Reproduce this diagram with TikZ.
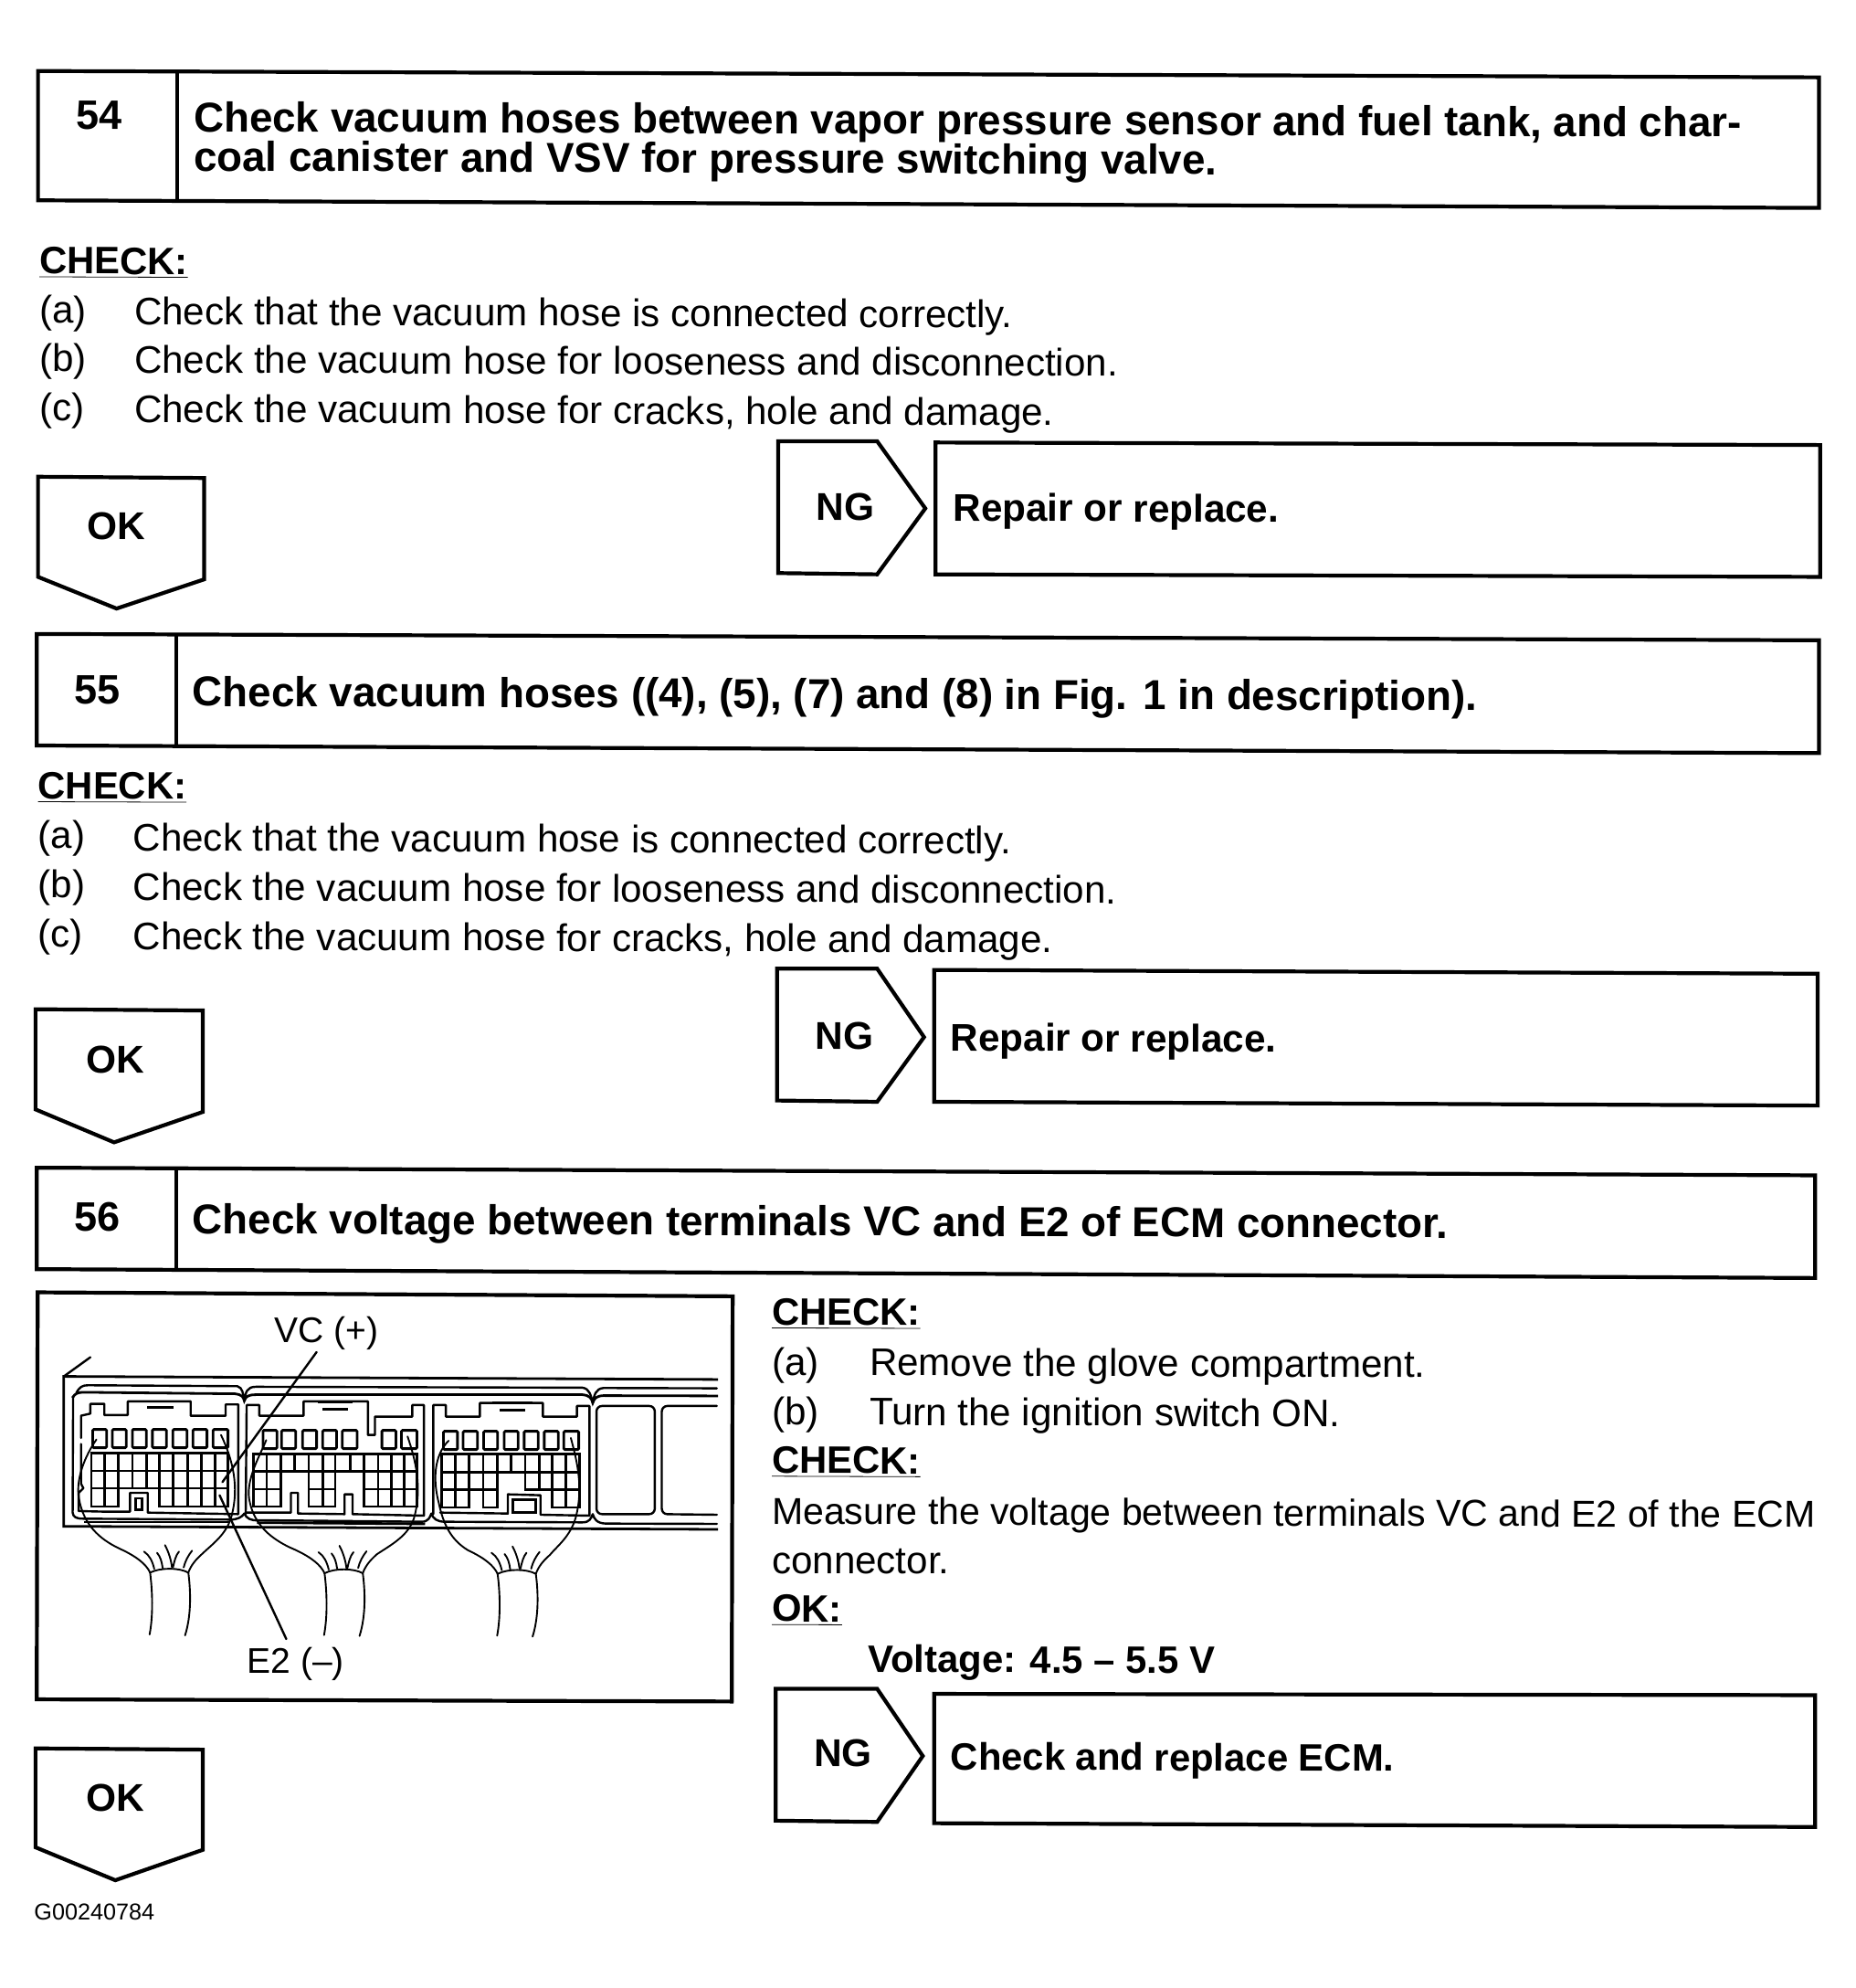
\documentclass[tikz,border=0pt]{standalone}
\usepackage{fontspec}
\setmainfont{Liberation Sans}
\tikzset{
  every node/.style={inner sep=0pt,outer sep=0pt},
  boxline/.style={line width=2.1pt,line join=miter},
  fig/.style={line width=1.2pt,line join=round,line cap=round},
  figthin/.style={line width=.95pt,line join=round,line cap=round},
  grid/.style={line width=1.4pt,line cap=rect},
  body/.style={anchor=base west,rotate=-.2,font=\fontsize{21.05}{26}\selectfont},
  bold/.style={anchor=base west,rotate=-.2,font=\fontsize{22.85}{21.5}\selectfont\bfseries,align=left},
  boldsm/.style={anchor=base west,rotate=-.2,font=\fontsize{21.1}{26}\selectfont\bfseries},
  chk/.style={anchor=base west,rotate=-.2,font=\fontsize{20.9}{26}\selectfont\bfseries},
  tag/.style={anchor=center,rotate=-.2,font=\fontsize{21.2}{26}\selectfont\bfseries},
  num/.style={anchor=center,rotate=-.2,font=\fontsize{22.5}{26}\selectfont\bfseries},
  figlabel/.style={anchor=center,font=\fontsize{19.5}{24}\selectfont}
}
% harness in zoom coordinates: shift x, shift y, left start x, right start x, right start y, left bulge, right bulge
\newcommand{\harness}[7]{%
  \begin{scope}[shift={(#1,#2)}]
    \draw[figthin] (#3,525) .. controls (125,575) and (100+#6,660) .. (112+#6,730) .. controls (122+#6,800) and (150+#6/2,850) .. (200,885) .. controls (235,910) and (255,935) .. (263,962);
    \draw[figthin] (#4,#5) .. controls (440+#7,590) and (455+#7,680) .. (437+#7,780) .. controls (425+#7,840) and (395+#7/2,870) .. (375,900) .. controls (360,920) and (350,940) .. (345,962);
    \draw[figthin] (263,962) .. controls (285,945) and (325,945) .. (345,962);
    \draw[figthin] (263,962) .. controls (268,1020) and (270,1100) .. (262,1165);
    \draw[figthin] (345,962) .. controls (350,1020) and (352,1100) .. (338,1168);
    \draw[figthin] (272,950) .. controls (268,925) and (262,905) .. (250,893);
    \draw[figthin] (290,947) .. controls (288,925) and (285,910) .. (278,897);
    \draw[figthin] (310,945) .. controls (308,920) and (303,895) .. (295,872);
    \draw[figthin] (312,945) .. controls (315,925) and (318,905) .. (325,893);
    \draw[figthin] (335,945) .. controls (338,925) and (345,905) .. (353,890);
  \end{scope}}
\newcommand{\pins}[2]{\foreach \a/\b in {#2} {\draw[grid,rounded corners=.6pt] (\a,#1) rectangle (\b,#1+60);}}
\begin{document}
\begin{tikzpicture}[x=.6936pt,y=-.6936pt]
\useasboundingbox (0,0) rectangle (1464,1568);
\fill[white] (0,0) rectangle (1464,1568);

% ---- step 54
\draw[boxline] (30,56) -- (1435,61) -- (1435,164) -- (30,158) -- cycle;
\draw[boxline] (140,57) -- (140,158);
\node[num] (n54) at (78,91) {54};
\node[bold,anchor=north west] (t54) at (153,80) {Check vacuum hoses between vapor pressure sensor and fuel tank, and char-\\coal canister and VSV for pressure switching valve.};
\node[chk] (c54) at (31,216) {\underline{CHECK:}};
\node[body] (a54l) at (31,255) {(a)};
\node[body] (a54) at (106,256) {Check that the vacuum hose is connected correctly.};
\node[body] (b54l) at (31,293) {(b)};
\node[body] (b54) at (106,294) {Check the vacuum hose for looseness and disconnection.};
\node[body] (c54l) at (31,332) {(c)};
\node[body] (c54b) at (106,333) {Check the vacuum hose for cracks, hole and damage.};
\draw[boxline] (30,376) -- (161,377) -- (161,457) -- (92,480) -- (30,455) -- cycle;
\node[tag] (ok54) at (92,415) {OK};
\draw[boxline] (614,348) -- (692,348) -- (730,401) -- (692,453) -- (614,452) -- cycle;
\node[tag] (ng54) at (667,400) {NG};
\draw[boxline] (738,349) -- (1436,351) -- (1436,455) -- (738,453) -- cycle;
\node[boldsm] (r54) at (752,411) {Repair or replace.};

% ---- step 55
\draw[boxline] (29,500) -- (1435,505) -- (1435,594) -- (29,588) -- cycle;
\draw[boxline] (139,501) -- (139,589);
\node[num] (n55) at (77,544) {55};
\node[bold] (t55) at (152,557) {Check vacuum hoses ((4), (5), (7) and (8) in Fig. 1 in description).};
\node[chk] (c55) at (30,630) {\underline{CHECK:}};
\node[body] (a55l) at (30,669) {(a)};
\node[body] (a55) at (105,671) {Check that the vacuum hose is connected correctly.};
\node[body] (b55l) at (30,708) {(b)};
\node[body] (b55) at (105,710) {Check the vacuum hose for looseness and disconnection.};
\node[body] (c55l) at (30,747) {(c)};
\node[body] (c55b) at (105,749) {Check the vacuum hose for cracks, hole and damage.};
\draw[boxline] (28,796) -- (160,797) -- (160,877) -- (90,901) -- (28,875) -- cycle;
\node[tag] (ok55) at (91,836) {OK};
\draw[boxline] (613,764) -- (692,764) -- (729,818) -- (692,869) -- (613,868) -- cycle;
\node[tag] (ng55) at (666,817) {NG};
\draw[boxline] (737,765) -- (1434,768) -- (1434,872) -- (737,869) -- cycle;
\node[boldsm] (r55) at (750,829) {Repair or replace.};

% ---- step 56
\draw[boxline] (29,921) -- (1432,927) -- (1432,1008) -- (29,1001) -- cycle;
\draw[boxline] (139,922) -- (139,1002);
\node[num] (n56) at (77,960) {56};
\node[bold] (t56) at (152,973) {Check voltage between terminals VC and E2 of ECM connector.};
\node[chk] (c56) at (609,1045) {\underline{CHECK:}};
\node[body] (a56l) at (609,1085) {(a)};
\node[body] (a56) at (686,1085) {Remove the glove compartment.};
\node[body] (b56l) at (609,1124) {(b)};
\node[body] (b56) at (686,1124) {Turn the ignition switch ON.};
\node[chk] (d56) at (609,1162) {\underline{CHECK:}};
\node[body,font=\fontsize{20.5}{26}\selectfont] (m56) at (609,1202) {Measure the voltage between terminals VC and E2 of the ECM};
\node[body] (m56b) at (609,1241) {connector.};
\node[chk] (o56) at (609,1279) {\underline{OK:}};
\node[chk] (v56) at (685,1319) {Voltage: 4.5 – 5.5 V};
\draw[boxline] (28,1379) -- (160,1380) -- (160,1459) -- (91,1483) -- (28,1457) -- cycle;
\node[tag] (ok56) at (91,1418) {OK};
\draw[boxline] (612,1332) -- (692,1332) -- (728,1385) -- (692,1437) -- (612,1436) -- cycle;
\node[tag] (ng56) at (665,1383) {NG};
\draw[boxline] (737,1336) -- (1432,1337) -- (1432,1441) -- (737,1438) -- cycle;
\node[boldsm,font=\fontsize{20.9}{26}\selectfont\bfseries] (r56) at (750,1396) {Check and replace ECM.};
\node[anchor=base west,font=\fontsize{12.6}{15}\selectfont] (g) at (27,1514) {G00240784};

% ---- figure, in zoom coordinates
\begin{scope}[shift={(21.62,1009.2)},xscale=.368,yscale=.2403]
  \draw[boxline] (22,42) -- (1512,55) -- (1510,1385) -- (20,1378) -- cycle;
  \node[figlabel] (vc) at (642,178) {VC (+)};
  \node[figlabel] (e2) at (575,1262) {E2 (–)};
  \coordinate (vcend) at (620,238);
  \coordinate (vcpin) at (418,665);
  \coordinate (e2end) at (555,1180);
  \coordinate (e2pin) at (412,708);
  % housing
  \draw[fig] (135,255) -- (78,318);
  \draw[grid] (1478,328) -- (78,318) -- (78,810) -- (1478,820);
  \draw[fig] (105,372) .. controls (112,352) and (118,347) .. (130,347) -- (450,350) .. controls (462,355) and (462,375) .. (465,398) .. controls (468,370) and (470,352) .. (490,352) -- (1190,355) .. controls (1205,358) and (1208,380) .. (1212,405) .. controls (1215,380) and (1218,358) .. (1235,356) -- (1478,357);
  \draw[grid] (98,385) .. controls (102,375) and (108,370) .. (120,370) -- (445,375) .. controls (460,378) and (463,385) .. (465,398) .. controls (468,385) and (472,378) .. (490,378) -- (1190,378) .. controls (1205,380) and (1210,390) .. (1212,405) .. controls (1215,390) and (1220,382) .. (1235,381) -- (1478,382);
  \draw[fig] (98,385) -- (97,765) .. controls (98,780) and (105,785) .. (120,785) -- (435,788) .. controls (450,788) and (460,780) .. (465,768) .. controls (470,785) and (480,792) .. (495,790) -- (845,795) .. controls (860,795) and (863,780) .. (866,768) .. controls (870,785) and (878,795) .. (895,795) -- (1190,797) .. controls (1205,797) and (1208,785) .. (1212,770) .. controls (1215,785) and (1220,800) .. (1240,801) -- (1478,802);
  \draw[grid] (125,796) -- (430,796);
  \draw[grid] (495,798) -- (850,802);
  % connector A outline
  \draw[fig] (452,770) -- (452,410) -- (425,410) -- (425,447) -- (350,447) -- (350,400) -- (215,400) -- (215,445) -- (165,445) -- (165,408) -- (135,408) -- (135,440) -- (115,447) -- (115,520) (115,540) -- (115,670) -- (120,685) -- (110,700) -- (110,760) -- (168,762) -- (220,762) -- (220,700) -- (258,700) -- (258,765) -- (452,770);
  \draw[grid] (258,400) -- (320,400) (260,420) -- (310,420);
  \draw[grid] (232,718) rectangle (245,755);
  \pins{492}{140/170,182/212,225/255,268/298,312/342,355/385,398/430}
  \foreach \x in {137,165,195,225,255,283,313,343,373,403,430} \draw[grid] (\x,570) -- (\x,685);
  \foreach \x in {137,165,195,283,313,343,373,403,430} \draw[grid] (\x,685) -- (\x,745);
  \draw[grid] (137,570) -- (430,570) (137,628) -- (430,628) (137,685) -- (430,685);
  \draw[grid] (137,745) -- (195,745) (283,745) -- (430,745);
  % connector B outline
  \draw[fig] (468,770) -- (470,412) -- (497,412) -- (497,447) -- (592,447) -- (592,400) -- (730,400) -- (730,510) -- (745,510) -- (745,450) -- (825,450) -- (825,412) -- (850,412) -- (850,775) -- (697,770) -- (697,705) -- (680,705) -- (680,770) -- (580,768) -- (580,700) -- (565,700) -- (565,765) -- (470,765);
  \draw[grid] (625,402) -- (695,402) (635,425) -- (685,425);
  \pins{495}{505/535,545/575,590/620,633/663,675/707,760/790,802/835}
  \foreach \x in {485,513,543,603,633,660,722,752,780,808,835} \draw[grid] (\x,572) -- (\x,745);
  \foreach \x in {573} \draw[grid] (\x,572) -- (\x,630);
  \foreach \x in {692} \draw[grid] (\x,572) -- (\x,630);
  \draw[grid] (485,572) -- (835,572) (485,630) -- (835,630);
  \draw[grid] (485,688) -- (543,688) (603,688) -- (660,688) (722,688) -- (835,688);
  \draw[grid] (485,745) -- (543,745) (603,745) -- (660,745) (722,745) -- (835,745);
  % connector C outline
  \draw[fig] (870,770) -- (870,412) -- (897,412) -- (897,450) -- (970,450) -- (970,405) -- (1105,405) -- (1105,450) -- (1178,450) -- (1178,415) -- (1205,415) -- (1205,775) -- (1100,772) -- (1100,708) -- (1030,705) -- (1030,768) -- (885,765);
  \draw[grid] (1000,405) -- (1080,405) (1015,428) -- (1065,428);
  \draw[grid] (1040,722) rectangle (1090,765);
  \pins{498}{892/922,934/965,978/1008,1022/1052,1065/1095,1108/1138,1150/1182}
  \foreach \x in {888,917,947,977,1007,1037,1067,1097,1125,1155,1183} \draw[grid] (\x,572) -- (\x,632);
  \foreach \x in {888,917,947,977,1007,1067,1097,1125,1155,1183} \draw[grid] (\x,632) -- (\x,690);
  \foreach \x in {888,917,947,977,1007,1125,1155,1183} \draw[grid] (\x,690) -- (\x,748);
  \draw[grid] (888,572) -- (1183,572) (888,632) -- (1183,632) (888,690) -- (1007,690) (1067,690) -- (1183,690);
  \draw[grid] (888,748) -- (947,748) (977,748) -- (1007,748) (1125,748) -- (1183,748);
  % blank cavities
  \draw[fig,rounded corners=3pt] (1220,415) rectangle (1345,770);
  \draw[fig,rounded corners=3pt] (1478,415) -- (1360,415) -- (1360,770) -- (1478,772);
  % harnesses
  \harness{0}{0}{148}{415}{510}{0}{0}
  \harness{374}{2}{138}{441}{513}{-9}{18}
  \harness{745}{4}{158}{420}{516}{25}{-7}
  % leaders
  \draw[fig] (e2end) -- (e2pin);
  \draw[fig] (vcend) -- (vcpin);
\end{scope}
\end{tikzpicture}
\end{document}
